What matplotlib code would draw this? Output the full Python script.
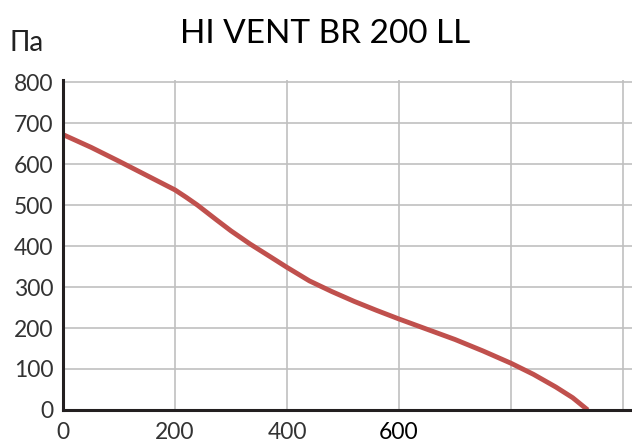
import matplotlib.pyplot as plt

plt.rcParams['font.family'] = ['Lato', 'DejaVu Sans']

# Data
flow = [0, 50, 100, 150, 200, 220, 240, 274, 300, 334, 370, 400, 440, 480, 520, 560, 600,
        646, 700, 750, 800, 840, 880, 910, 937]
pressure = [672, 641, 607, 572, 537, 519, 500, 464, 437, 405, 374, 348, 315, 289, 265, 243, 222,
            199, 172, 144, 114, 87, 56, 30, 0]

x_ticks = [0, 200, 400, 600]
x_grid = [200, 400, 600, 800, 1000]
y_ticks = [0, 100, 200, 300, 400, 500, 600, 700, 800]

fig = plt.figure(figsize=(6.32, 4.45), dpi=100)
ax = fig.add_axes([0.0997, 0.0787, 0.9003, 0.7413])

ax.plot(flow, pressure, color='#c0504d', linewidth=3.5, solid_capstyle='butt',
        solid_joinstyle='round', zorder=3)

for gx in x_grid:
    ax.axvline(gx, color='#c0c0c0', linewidth=1.2, zorder=1)
for gy in y_ticks[1:]:
    ax.axhline(gy, color='#c0c0c0', linewidth=1.2, zorder=1)

ax.set_xlim(0, 1016)
ax.set_ylim(0, 805)
ax.set_xticks(x_ticks)
ax.set_yticks(y_ticks)
ax.set_xticklabels([str(v) for v in x_ticks], fontsize=16.5, color='#333333')
ax.set_yticklabels([str(v) for v in y_ticks], fontsize=16.5, color='#333333')
lab600 = ax.get_xticklabels()[3]
lab600.set_color('black')
ax.tick_params(axis='x', length=0, pad=9)
ax.tick_params(axis='y', length=0, pad=7)

for side in ['top', 'right']:
    ax.spines[side].set_visible(False)
for side in ['left', 'bottom']:
    ax.spines[side].set_linewidth(2.2)
    ax.spines[side].set_color('#231f20')
    ax.spines[side].set_zorder(4)

fig.text(0.514, 0.924, 'HI VENT BR 200 LL', fontsize=24, ha='center', va='center',
         color='black')
fig.text(0.015, 0.903, 'Па', fontsize=20, ha='left', va='center', color='#222222')

plt.savefig('out.png', dpi=100)
